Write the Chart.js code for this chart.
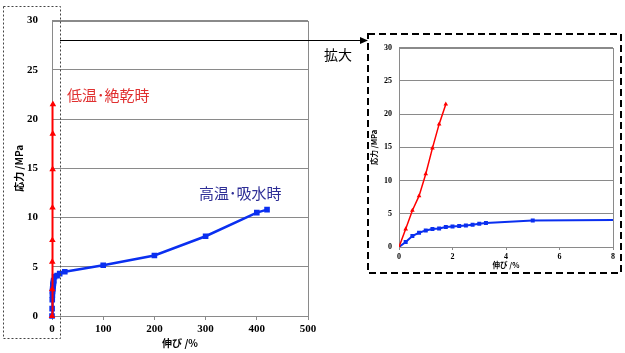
<!DOCTYPE html>
<html>
<head>
<meta charset="utf-8">
<script src="https://cdn.jsdelivr.net/npm/chart.js@4.4.1/dist/chart.umd.min.js"></script>
<style>
  body { margin: 0; background: #fff; width: 625px; height: 353px; overflow: hidden; position: relative; }
  #mainBox { position: absolute; left: 0; top: 0; width: 320px; height: 353px; }
  #zoomBox { position: absolute; left: 370px; top: 36px; width: 250px; height: 236px; }
  svg { position: absolute; left: 0; top: 0; }
  .note { position: absolute; font-family: "Noto Sans CJK JP", sans-serif; white-space: nowrap; }
</style>
</head>
<body>
<div id="mainBox"><canvas id="mainChart"></canvas></div>
<div id="zoomBox"><canvas id="zoomChart"></canvas></div>
<svg width="625" height="353">
  <rect x="3.5" y="6.5" width="57" height="332" fill="none" stroke="#444" stroke-width="1" stroke-dasharray="2 2"/>
  <rect x="368" y="34" width="253" height="239" fill="none" stroke="#000" stroke-width="2" stroke-dasharray="7 4"/>
  <line x1="60" y1="40.5" x2="362" y2="40.5" stroke="#000" stroke-width="1"/>
  <polygon points="368,40.5 360,37 360,44" fill="#000"/>
</svg>
<div class="note" style="left:67px; top:84px; font-size:15px; color:#e03030;">低温･絶乾時</div>
<div class="note" style="left:199px; top:182px; font-size:15px; color:#2e2e96;">高温･吸水時</div>
<div class="note" style="left:324px; top:44px; font-size:14px; color:#000;">拡大</div>
<script>
// 低温・絶乾時 (red)
const dryStrain = [0, 0.25, 0.5, 0.75, 1.0, 1.25, 1.5, 1.75];
const dryStress = [0, 2.7, 5.5, 7.7, 11.0, 14.9, 18.5, 21.5];
// 高温・吸水時 (blue)
const wetStrain = [0, 0.25, 0.5, 0.75, 1.0, 1.25, 1.5, 1.75, 2.0, 2.25, 2.5, 2.75, 3.0, 3.25, 5, 10, 15, 25, 100, 200, 300, 400, 420];
const wetStress = [0, 0.75, 1.65, 2.15, 2.5, 2.7, 2.8, 3.0, 3.1, 3.15, 3.25, 3.35, 3.5, 3.6, 4.0, 4.1, 4.3, 4.5, 5.15, 6.15, 8.1, 10.5, 10.8];

const mainXTicks = [0, 100, 200, 300, 400, 500];
const zoomXTicks = [0, 2, 4, 6, 8];
const stressTicks = [0, 5, 10, 15, 20, 25, 30];

const xTitle = '伸び /%';
const yTitle = '応力 /MPa';

function pairs(xs, ys) {
    return xs.map((x, i) => ({x: x, y: ys[i]}));
}

// grey frame round the plot area, drawn under the lines
const frame = {
    id: 'frame',
    beforeDatasetsDraw(chart) {
        const a = chart.chartArea;
        const c = chart.ctx;
        c.save();
        c.strokeStyle = '#8a8a8a';
        c.lineWidth = 1;
        c.strokeRect(Math.round(a.left) + 0.5, Math.round(a.top) + 0.5, Math.round(a.right - a.left), Math.round(a.bottom - a.top));
        c.restore();
    }
};

function makeChart(id, opt) {
    return new Chart(document.getElementById(id), {
        type: 'line',
        data: {
            datasets: [
                {
                    data: pairs(dryStrain, dryStress),
                    borderColor: '#ff0000',
                    backgroundColor: '#ff0000',
                    borderWidth: opt.redWidth,
                    pointStyle: 'triangle',
                    pointRadius: opt.redPoint,
                    tension: 0,
                    clip: opt.clip,
                },
                {
                    data: pairs(wetStrain, wetStress),
                    borderColor: '#0a2ff0',
                    backgroundColor: '#0a2ff0',
                    borderWidth: opt.blueWidth,
                    pointStyle: 'rect',
                    pointRadius: opt.bluePoint,
                    tension: 0,
                    clip: opt.clip,
                }
            ]
        },
        options: {
            responsive: true,
            maintainAspectRatio: false,
            animation: false,
            layout: {padding: opt.padding},
            plugins: {legend: {display: false}, tooltip: {enabled: false}},
            scales: {
                x: {
                    type: 'linear',
                    min: 0,
                    max: opt.xTicks[opt.xTicks.length - 1],
                    afterBuildTicks: s => { s.ticks = opt.xTicks.map(v => ({value: v})); },
                    afterFit: s => { s.height = opt.xHeight; },
                    grid: {drawOnChartArea: false, drawTicks: true, tickLength: opt.tickLen, color: '#8a8a8a'},
                    border: {color: '#8a8a8a'},
                    ticks: {color: '#000', padding: opt.xPad, maxRotation: 0,
                        font: {family: "'Liberation Serif', serif", size: opt.tickSize, weight: 'bold'}},
                    title: {display: true, text: xTitle, color: '#000', padding: {top: 0, bottom: opt.xTitlePad},
                        font: {family: "'Noto Sans CJK JP', sans-serif", size: opt.titleSize, weight: 'bold'}}
                },
                y: {
                    min: 0,
                    max: 30,
                    afterBuildTicks: s => { s.ticks = stressTicks.map(v => ({value: v})); },
                    afterFit: s => { s.width = opt.yWidth; },
                    grid: {drawTicks: false, color: '#8a8a8a'},
                    border: {color: '#8a8a8a'},
                    ticks: {color: '#000', padding: opt.yPad,
                        font: {family: "'Liberation Serif', serif", size: opt.tickSize, weight: 'bold'}},
                    title: {display: true, text: yTitle, color: '#000', padding: {top: opt.yTitlePad, bottom: 0},
                        font: {family: "'Noto Sans CJK JP', sans-serif", size: opt.titleSize, weight: 'bold'}}
                }
            }
        },
        plugins: [frame]
    });
}

makeChart('mainChart', {
    padding: {left: 0, top: 18, right: 12, bottom: 0},
    xHeight: 37, yWidth: 52,
    tickLen: 4, xPad: 3, yPad: 14,
    tickSize: 11, titleSize: 10,
    xTitlePad: 4, yTitlePad: 13,
    xTicks: mainXTicks,
    clip: 4,
    redWidth: 2, redPoint: 1.8, blueWidth: 2.5, bluePoint: 2.2
});

makeChart('zoomChart', {
    padding: {left: 0, top: 5, right: 7, bottom: 0},
    xHeight: 25, yWidth: 29,
    tickLen: 3, xPad: 2, yPad: 7,
    tickSize: 8, titleSize: 7.5,
    xTitlePad: 2, yTitlePad: 0,
    xTicks: zoomXTicks,
    clip: 0,
    redWidth: 1.5, redPoint: 1.2, blueWidth: 2, bluePoint: 1.4
});
</script>
</body>
</html>
